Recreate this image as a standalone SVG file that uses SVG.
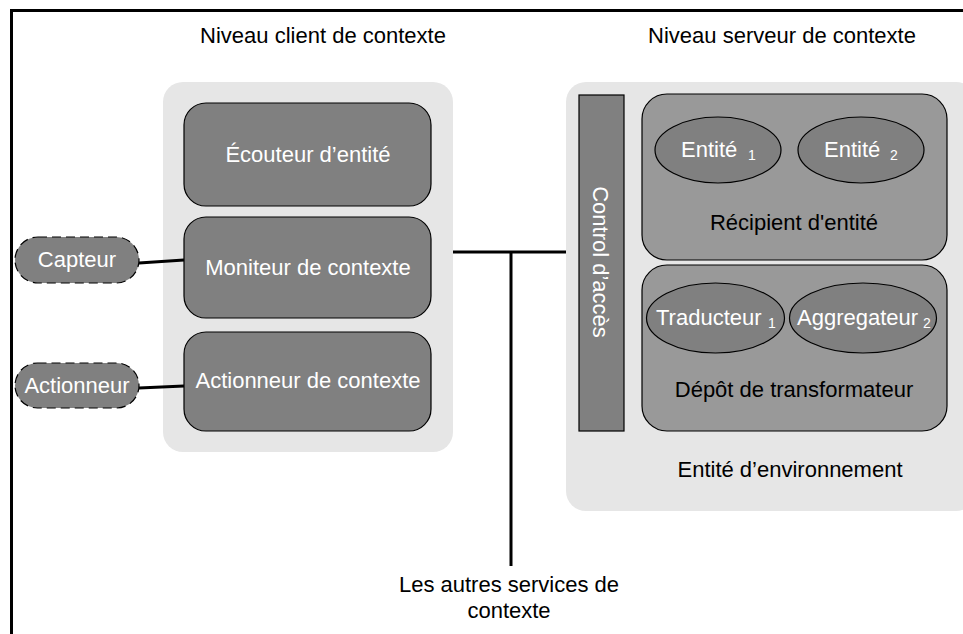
<svg xmlns="http://www.w3.org/2000/svg" width="963" height="634" viewBox="0 0 963 634">
<style>
text{font-family:"Liberation Sans",Arial,sans-serif;font-size:22px;text-anchor:middle}
.w{fill:#ffffff}
.k{fill:#000000}
.st{text-anchor:start}
.sub{font-size:14px}
.cont{fill:#e6e6e6}
.dark{fill:#808080;stroke:#000;stroke-width:1.2}
.mid{fill:#999999;stroke:#000;stroke-width:1.2}
.pill{fill:#808080;stroke:#000;stroke-width:1.2;stroke-dasharray:9 5}
.conn{stroke:#000;stroke-width:3;fill:none}
</style>
<rect width="963" height="634" fill="#fff"/>
<path d="M11.5,640 V10.5 H970" fill="none" stroke="#000" stroke-width="3"/>
<text class="k" x="323" y="43">Niveau client de contexte</text>
<text class="k" x="782" y="43">Niveau serveur de contexte</text>
<g id="client-tier">
<rect class="cont" x="163" y="82" width="290" height="370" rx="20"/>
</g>
<g id="server-tier">
<rect class="cont" x="566" y="82" width="410" height="429" rx="20"/>
<text class="k" x="790" y="477">Entité d’environnement</text>
</g>
<g id="ecouteur">
<rect class="dark" x="184" y="103" width="247" height="103" rx="22"/>
<text class="w" x="308" y="162">Écouteur d’entité</text>
</g>
<g id="moniteur">
<rect class="dark" x="184" y="217" width="247" height="101" rx="22"/>
<text class="w" x="308" y="275">Moniteur de contexte</text>
</g>
<g id="actionneur-contexte">
<rect class="dark" x="184" y="332" width="247" height="99" rx="22"/>
<text class="w" x="308" y="388">Actionneur de contexte</text>
</g>
<g id="capteur">
<rect class="pill" x="15" y="237" width="124" height="46" rx="23"/>
<text class="w" x="77" y="267">Capteur</text>
</g>
<g id="actionneur">
<rect class="pill" x="15" y="363" width="124" height="45" rx="22.5"/>
<text class="w" x="77" y="393">Actionneur</text>
</g>
<g id="control-acces">
<rect class="dark" x="579" y="95" width="45" height="336"/>
<text class="w" transform="translate(593,262) rotate(90)" x="0" y="0">Control d’accès</text>
</g>
<g id="recipient">
<rect class="mid" x="642" y="94" width="305" height="166" rx="25"/>
<text class="k" x="794" y="230">Récipient d'entité</text>
</g>
<g id="entite1">
<ellipse class="dark" cx="718" cy="150" rx="63" ry="33"/>
<text class="w st" x="681" y="157">Entité</text>
<text class="w st sub" x="748" y="160">1</text>
</g>
<g id="entite2">
<ellipse class="dark" cx="861" cy="150" rx="63" ry="33"/>
<text class="w st" x="824" y="157">Entité</text>
<text class="w st sub" x="890" y="160">2</text>
</g>
<g id="depot">
<rect class="mid" x="642" y="265" width="305" height="166" rx="25"/>
<text class="k" x="794" y="397">Dépôt de transformateur</text>
</g>
<g id="traducteur">
<ellipse class="dark" cx="715.5" cy="318" rx="69" ry="35"/>
<text class="w st" x="656" y="325">Traducteur</text>
<text class="w st sub" x="768" y="328">1</text>
</g>
<g id="aggregateur">
<ellipse class="dark" cx="863" cy="318" rx="73.5" ry="35"/>
<text class="w st" x="797" y="325">Aggregateur</text>
<text class="w st sub" x="923" y="328">2</text>
</g>
<g id="autres-services">
<text class="k" x="509" y="592">Les autres services de</text>
<text class="k" x="509" y="618">contexte</text>
</g>
<g id="connectors">
<line class="conn" x1="139" y1="263" x2="184" y2="260"/>
<line class="conn" x1="139" y1="388" x2="184" y2="386"/>
<line class="conn" x1="453" y1="252" x2="566" y2="252"/>
<line class="conn" x1="511" y1="251" x2="511" y2="566"/>
</g>
</svg>
